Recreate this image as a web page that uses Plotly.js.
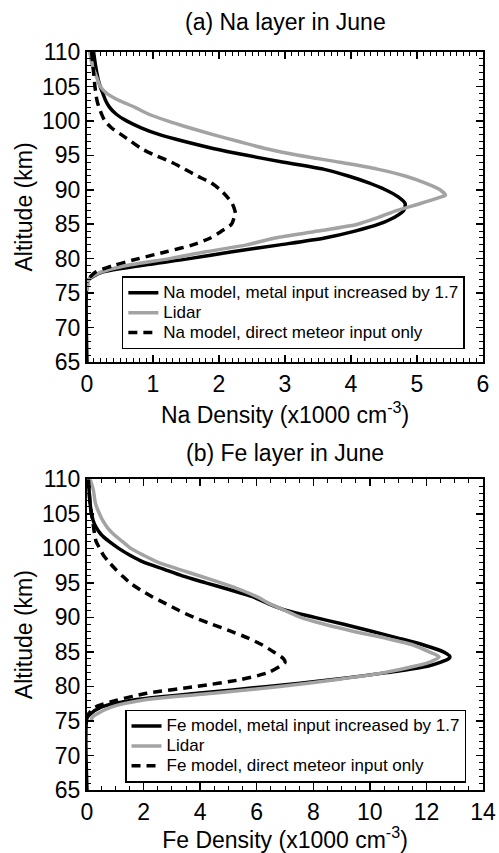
<!DOCTYPE html>
<html>
<head>
<meta charset="utf-8">
<script src="https://cdn.plot.ly/plotly-3.0.1.min.js"></script>
<style>html,body{margin:0;padding:0;background:#fff;}#chart{width:499px;height:853px;}</style>
</head>
<body>
<div id="chart"></div>
<script>
// ---------- (a) Na layer ----------
const naModelAlt = [110,108,106,105,104,103,102,101,100,99,98,97,96,95,94,93,92,91,90,89,88,87,86,85,84,83,82,81,80,79,78,77,76.5,65];
const naModelVal = [0.1,0.13,0.17,0.2,0.24,0.28,0.34,0.44,0.6,0.82,1.1,1.48,1.91,2.42,2.98,3.58,3.96,4.27,4.52,4.71,4.82,4.8,4.66,4.42,4.06,3.6,2.92,2.2,1.55,0.82,0.22,0.03,0,0];

const naLidarAlt = [110,109,108,107,106,105,104,103,102,101,100,99,98,97,96,95,94,93,92,91,90,89.2,89,88,87,86,85,84,83,82,81,80,79,78,77,76,75.3];
const naLidarVal = [0.04,0.06,0.08,0.12,0.16,0.2,0.3,0.48,0.72,0.93,1.22,1.55,1.91,2.3,2.7,3.2,3.83,4.4,4.82,5.12,5.35,5.43,5.38,5.05,4.7,4.42,4.1,3.5,2.85,2.42,1.8,1.25,0.6,0.2,0.03,0.01,0];

const naMeteorAlt = [110,108,107,105,103,102,101,100,99,98,97,96,95,94,93,92,91,90,89,88,87,86.5,86,85,84,83,82,81,80,79,78,77,76.5];
const naMeteorVal = [0.07,0.09,0.1,0.12,0.15,0.18,0.22,0.27,0.37,0.52,0.67,0.82,1.03,1.28,1.48,1.67,1.88,2.02,2.12,2.2,2.24,2.25,2.23,2.19,2.04,1.87,1.6,1.2,0.78,0.4,0.12,0.02,0];

// ---------- (b) Fe layer ----------
const feModelAlt = [110,108,106.5,105,104,103,102,101,100,99,98,97,96,95,94,93,92,91,90,89,88,87,86,85,84.3,84,83,82,81,80,79,78,77,76,75.4,65];
const feModelVal = [0.05,0.08,0.11,0.16,0.22,0.33,0.5,0.78,1.12,1.52,2.0,2.7,3.37,4.2,5.05,5.85,6.4,7.05,8.05,9.08,10.06,11.0,11.9,12.6,12.83,12.78,12.1,10.6,8.7,6.4,3.9,1.6,0.5,0.12,0,0];

const feLidarAlt = [110,108.5,106.5,105,104,103,102,101,100,99,98,97,96,95,94,93,92,91,90,89,88,87,86,85,84.3,83.5,83,82,81,80,79,78,77,76,75.5,75];
const feLidarVal = [0.11,0.22,0.3,0.44,0.56,0.72,0.95,1.25,1.55,2.0,2.5,3.22,3.99,4.74,5.43,6.0,6.45,7.0,7.55,8.4,9.4,10.55,11.53,12.1,12.45,12.1,11.65,10.5,8.85,6.82,4.46,1.95,0.85,0.35,0.18,0.15];

const feMeteorAlt = [110,108,106,104,102,101,100,99,98,97,96,95,94,93,92,91,90,89,88,87,86,85,84,83.5,83,82,81,80,79,78,77,76,75.5];
const feMeteorVal = [0.05,0.08,0.12,0.2,0.27,0.32,0.45,0.58,0.78,1.0,1.25,1.52,1.88,2.3,2.78,3.25,3.78,4.42,5.08,5.7,6.2,6.6,6.95,7.0,6.85,6.4,5.45,3.88,2.11,1.05,0.3,0.05,0];

const naNames = ["Na model, metal input increased by 1.7", "Lidar", "Na model, direct meteor input only"];
const feNames = ["Fe model, metal input increased by 1.7", "Lidar", "Fe model, direct meteor input only"];

const FONT = "Liberation Sans, Arial, Helvetica, sans-serif";
const GRAY = "#a3a3a3";
const LW = 3.5;
const DASH = "9px,6px";

function legText(s) { return '<span style="font-size:17px">' + s + '</span>'; }

function tr(x, y, name, color, dash, xa, ya, leg) {
  return {x: x, y: y, name: legText(name), type: "scatter", mode: "lines",
    line: {color: color, width: LW, dash: dash, shape: "spline", smoothing: 0.7},
    xaxis: xa, yaxis: ya, legend: leg, hoverinfo: "skip"};
}

const data = [
  tr(naModelVal, naModelAlt, naNames[0], "#000", "solid", "x", "y", "legend"),
  tr(naLidarVal, naLidarAlt, naNames[1], GRAY, "solid", "x", "y", "legend"),
  tr(naMeteorVal, naMeteorAlt, naNames[2], "#000", DASH, "x", "y", "legend"),
  tr(feModelVal, feModelAlt, feNames[0], "#000", "solid", "x2", "y2", "legend2"),
  tr(feLidarVal, feLidarAlt, feNames[1], GRAY, "solid", "x2", "y2", "legend2"),
  tr(feMeteorVal, feMeteorAlt, feNames[2], "#000", DASH, "x2", "y2", "legend2")
];

function xax(range, dtick, minor, anchor, title) {
  return {range: range, dtick: dtick, tick0: 0, anchor: anchor, ticks: "inside", ticklen: 7, tickwidth: 1.5,
    tickcolor: "#000", mirror: "allticks", showline: true, linewidth: 2, linecolor: "#000",
    showgrid: false, zeroline: false, tickfont: {family: FONT, size: 23, color: "#000"},
    minor: {dtick: minor, ticks: "inside", ticklen: 4, tickwidth: 1, tickcolor: "#000", showgrid: false},
    title: {text: title, font: {family: FONT, size: 23, color: "#000"}, standoff: 11}};
}
function yax(domain, anchor) {
  return {domain: domain, range: [65, 110], dtick: 5, tick0: 65, anchor: anchor, ticks: "inside", ticklen: 7, tickwidth: 1.5,
    tickcolor: "#000", mirror: "allticks", showline: true, linewidth: 2, linecolor: "#000",
    showgrid: false, zeroline: false, tickfont: {family: FONT, size: 23, color: "#000"},
    minor: {dtick: 1, ticks: "inside", ticklen: 4, tickwidth: 1, tickcolor: "#000", showgrid: false},
    title: {text: "Altitude (km)", font: {family: FONT, size: 23, color: "#000"}, standoff: 3}};
}
function leg(x, y) {
  return {x: x, y: y, xanchor: "left", yanchor: "top", bgcolor: "#fff", bordercolor: "#000", borderwidth: 1.5,
    font: {family: FONT, size: 13, color: "#000"}, tracegroupgap: 0, itemwidth: 30};
}

const layout = {
  width: 499, height: 853,
  margin: {l: 87, r: 16, t: 52, b: 63},
  paper_bgcolor: "#fff", plot_bgcolor: "#fff",
  showlegend: true,
  font: {family: FONT, color: "#000"},
  xaxis: xax([0, 6], 1, 0.1, "y", "Na Density (x1000 cm<sup>-3</sup>)"),
  yaxis: yax([0.58, 1], "x"),
  xaxis2: xax([0, 14], 2, 0.5, "y2", "Fe Density (x1000 cm<sup>-3</sup>)"),
  yaxis2: yax([0, 0.421], "x2"),
  legend: leg(0.088, 0.696),
  legend2: leg(0.096, 0.109),
  annotations: [
    {text: "(a) Na layer in June", xref: "paper", yref: "paper", x: 0.5, y: 1.0407, xanchor: "center", yanchor: "middle",
     showarrow: false, font: {family: FONT, size: 23, color: "#000"}},
    {text: "(b) Fe layer in June", xref: "paper", yref: "paper", x: 0.5, y: 0.4566, xanchor: "center", yanchor: "middle",
     showarrow: false, font: {family: FONT, size: 23, color: "#000"}}
  ]
};

Plotly.newPlot("chart", data, layout, {staticPlot: true, displayModeBar: false});
</script>
</body>
</html>
